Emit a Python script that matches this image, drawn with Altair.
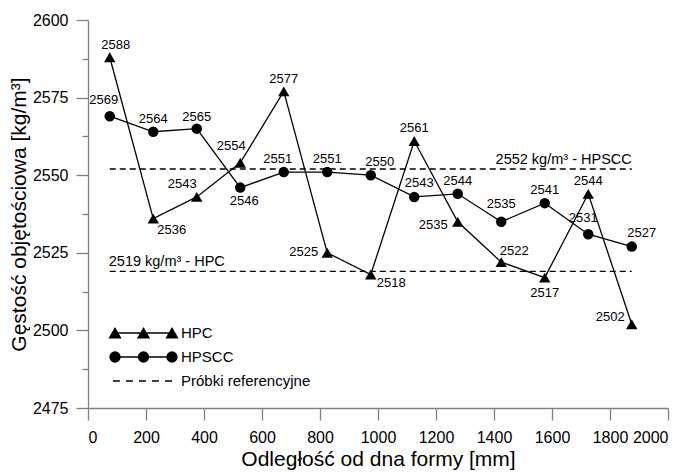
import altair as alt
import pandas as pd

# ---------------- data ----------------
x_mm = [75, 225, 375, 525, 675, 825, 975, 1125, 1275, 1425, 1575, 1725, 1875]
hpc = [2588, 2536, 2543, 2554, 2577, 2525, 2518, 2561, 2535, 2522, 2517, 2544, 2502]
hpscc = [2569, 2564, 2565, 2546, 2551, 2551, 2550, 2543, 2544, 2535, 2541, 2531, 2527]
series_names = ["HPC", "HPSCC", "Próbki referencyjne"]
ref_values = [2552, 2519]
ref_texts = ["2552 kg/m³ - HPSCC", "2519 kg/m³ - HPC"]
x_tick_values = [0, 100, 200, 300, 400, 500, 600, 700, 800, 900, 1000, 1100, 1200,
                 1300, 1400, 1500, 1600, 1700, 1800, 1900, 2000]
y_tick_values = [2475, 2487.5, 2500, 2512.5, 2525, 2537.5, 2550, 2562.5, 2575, 2587.5, 2600]

# label placement (pixel offsets / alignment) for data labels
hpc_label_style = [(6, -12, "center"), (4, 11, "left"), (0, -13, "right"), (-9, -17, "center"),
                   (0, -12, "center"), (-9, -1, "right"), (6, 8, "left"), (0, -13, "center"),
                   (-10, 3, "right"), (13, -11, "center"), (0, 15, "center"), (0, -13, "center"),
                   (-7, -7, "right")]
hpscc_label_style = [(-6, -16, "center"), (0, -13, "center"), (0, -12, "center"), (4, 13, "center"),
                     (-6, -13, "center"), (0, -13, "center"), (9, -13, "center"), (5, -14, "center"),
                     (0, -13, "center"), (0, -18, "center"), (0, -13, "center"), (-5, -16, "center"),
                     (10, -14, "center")]

SANS = "Liberation Sans, Arial, sans-serif"
AXIS_GRAY = "#808080"

# ---------------- encodings ----------------
x_scale = alt.Scale(domain=[0, 2000], nice=False, zero=False)
y_scale = alt.Scale(domain=[2475, 2600], nice=False, zero=False)
x_enc = alt.X(
    "x:Q",
    scale=x_scale,
    axis=alt.Axis(
        title="Odległość od dna formy [mm]",
        values=x_tick_values,
        format="d",
        labelExpr="datum.value % 200 === 0 ? datum.label : ''",
        tickSize={"condition": {"test": "datum.value % 200 === 0", "value": 12}, "value": 6},
        labelOverlap=False,
        labelPadding=9,
        titlePadding=3,
    ),
)
y_enc = alt.Y(
    "y:Q",
    scale=y_scale,
    axis=alt.Axis(
        title="Gęstość objętościowa [kg/m³]",
        values=y_tick_values,
        format="d",
        labelExpr="datum.value % 25 === 0 ? datum.label : ''",
        tickSize={"condition": {"test": "datum.value % 25 === 0", "value": 12}, "value": 6},
        labelOverlap=False,
        labelPadding=8,
        titleX=-59,
        titleBaseline="bottom",
    ),
)

# ---------------- tables ----------------
long_rows = []
for xv, v in zip(x_mm, hpc):
    long_rows.append({"x": xv, "y": v, "series": "HPC"})
for xv, v in zip(x_mm, hpscc):
    long_rows.append({"x": xv, "y": v, "series": "HPSCC"})
df_long = pd.DataFrame(long_rows)

ref_df = pd.DataFrame({"y": ref_values, "x": [min(x_mm)] * 2, "x2": [max(x_mm)] * 2, "t": ref_texts})

# legend symbols (unit path, scaled by the legend symbol size)
hpc_sym = ("M-0.814,0L0.814,0"
           "M-0.814,-0.136L-0.657,0.136L-0.971,0.136Z"
           "M0,-0.136L0.157,0.136L-0.157,0.136Z"
           "M0.814,-0.136L0.971,0.136L0.657,0.136Z")
hpscc_sym = ("M-0.814,0L0.814,0"
             "M-0.957,0A0.143,0.143 0 1,0 -0.671,0A0.143,0.143 0 1,0 -0.957,0Z"
             "M-0.143,0A0.143,0.143 0 1,0 0.143,0A0.143,0.143 0 1,0 -0.143,0Z"
             "M0.671,0A0.143,0.143 0 1,0 0.957,0A0.143,0.143 0 1,0 0.671,0Z")
ref_sym = ("M-0.874,0L-0.674,0M-0.502,0L-0.302,0M-0.13,0L0.07,0"
           "M0.242,0L0.442,0M0.614,0L0.814,0")
sym_expr = ("datum.value === 'HPC' ? '" + hpc_sym + "' : (datum.value === 'HPSCC' ? '"
            + hpscc_sym + "' : '" + ref_sym + "')")

# ---------------- layers ----------------
ref_rules = alt.Chart(ref_df).mark_rule(color="black", strokeDash=[6, 4], strokeWidth=1.3).encode(
    x=x_enc, x2="x2:Q", y=y_enc
)
ref_label_hi = alt.Chart(ref_df.iloc[[0]]).mark_text(
    align="right", baseline="middle", dy=-9, font=SANS, fontSize=14.5, color="black"
).encode(x=alt.X("x2:Q", scale=x_scale), y=y_enc, text="t:N")
ref_label_lo = alt.Chart(ref_df.iloc[[1]]).mark_text(
    align="left", baseline="middle", dx=-1, dy=-9, font=SANS, fontSize=14.5, color="black"
).encode(x=x_enc, y=y_enc, text="t:N")

lines = alt.Chart(df_long).mark_line(strokeWidth=1.3).encode(
    x=x_enc,
    y=y_enc,
    detail="series:N",
    color=alt.Color(
        "series:N",
        scale=alt.Scale(domain=series_names, range=["black", "black", "black"]),
        legend=alt.Legend(
            title=None,
            orient="none",
            legendX=19.5,
            legendY=304,
            direction="vertical",
            symbolType={"expr": sym_expr},
            symbolSize=4900,
            symbolStrokeWidth=1.3,
            symbolFillColor="black",
            symbolStrokeColor="black",
            clipHeight=18,
            rowPadding=6,
            padding=0,
            labelFont=SANS,
            labelFontSize=15,
            labelColor="black",
            labelOffset=1.5,
            labelLimit=400,
        ),
    ),
)

tri = alt.Chart(df_long[df_long.series == "HPC"]).mark_point(
    shape="triangle-up", filled=True, size=130, color="black", opacity=1
).encode(x=x_enc, y=y_enc)
cir = alt.Chart(df_long[df_long.series == "HPSCC"]).mark_point(
    shape="circle", filled=True, size=110, color="black", opacity=1
).encode(x=x_enc, y=y_enc)

label_layers = []
for values, styles in ((hpc, hpc_label_style), (hpscc, hpscc_label_style)):
    for xv, v, (dx, dy, al) in zip(x_mm, values, styles):
        d = pd.DataFrame({"x": [xv], "y": [v], "t": [str(v)]})
        label_layers.append(
            alt.Chart(d).mark_text(
                align=al, baseline="middle", dx=dx, dy=dy, font=SANS, fontSize=13, color="black"
            ).encode(x=x_enc, y=y_enc, text="t:N")
        )

chart = alt.layer(ref_rules, ref_label_hi, ref_label_lo, lines, tri, cir, *label_layers).properties(
    width=580,
    height=388,
    padding={"left": 88, "top": 20, "right": 20, "bottom": 66},
    autosize=alt.AutoSizeParams(type="none"),
    background="white",
).configure_view(stroke=None).configure_axis(
    domainColor=AXIS_GRAY,
    domainWidth=1.3,
    tickColor=AXIS_GRAY,
    tickWidth=1.3,
    grid=False,
    labelFont=SANS,
    labelFontSize=16,
    labelColor="black",
    titleFont=SANS,
    titleFontSize=21,
    titleFontWeight="normal",
    titleColor="black",
)

chart.save("out.html", embed_options={"renderer": "svg", "actions": False})
